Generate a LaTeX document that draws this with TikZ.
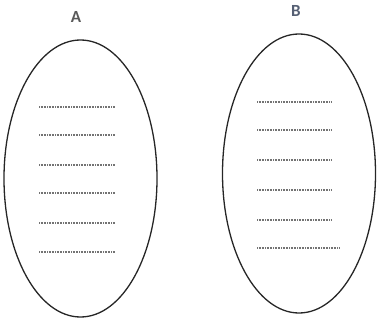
\documentclass[tikz,border=0pt]{standalone}
\usepackage{fontspec}
\setmainfont{Carlito}
\usetikzlibrary{shapes.geometric}
\definecolor{slateB}{RGB}{85,95,115}
\tikzset{oval/.style={draw=black!85,ellipse,line width=1.3pt,inner sep=0pt},
  dots/.style={black!55,line width=1.2pt,dash pattern=on 1pt off 0.6pt},
  lab/.style={font=\fontsize{17}{17}\selectfont\bfseries,text=black!65}}
\begin{document}
\begin{tikzpicture}[x=1pt,y=-1pt]
\useasboundingbox (0,0) rectangle (379,320);
\node[oval,minimum width=153pt,minimum height=277pt] (ellA) at (80.5,178.5) {};
\node[oval,minimum width=153pt,minimum height=279pt] (ellB) at (299,173.5) {};
\node[lab] (labA) at (76,17) {A};
\node[lab,text=slateB] (labB) at (296,11) {B};
\draw[dots] \foreach \y in {107,135,165,193,223,252} {(39,\y) -- (115,\y)};%A
\draw[dots] \foreach \y in {102,130,160,190,220} {(257,\y) -- (332,\y)};%B
\draw[dots] (257,248) -- (339,248);
\end{tikzpicture}
\end{document}
